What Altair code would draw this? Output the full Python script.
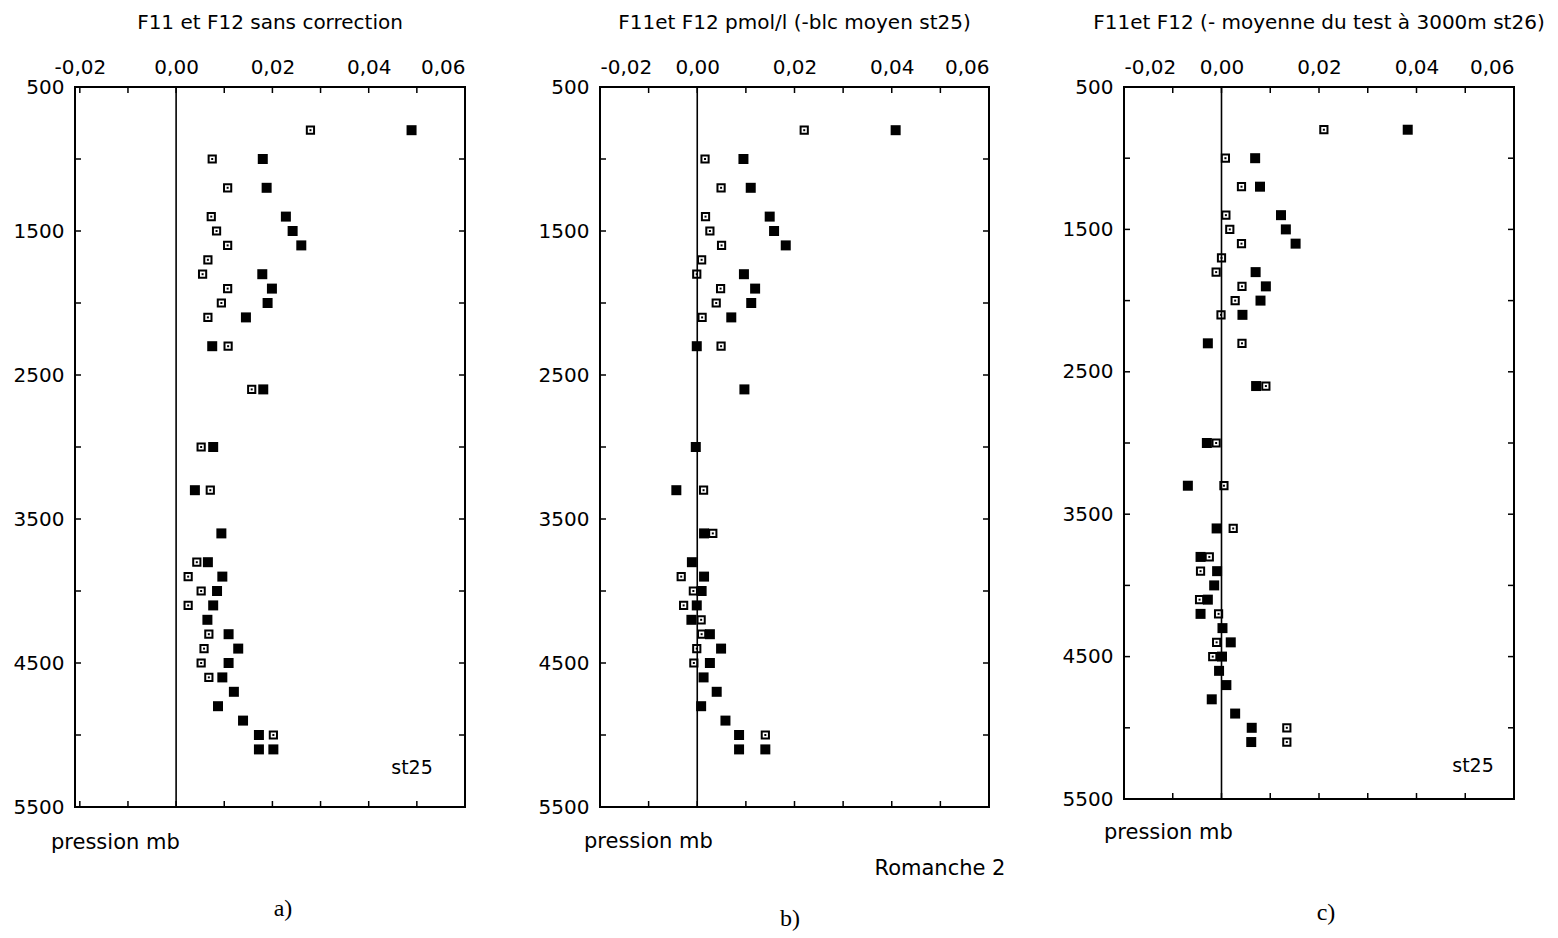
import altair as alt
import pandas as pd

# ---------------- data ----------------
# panel a) F11 et F12 sans correction
A_OPEN_P = [800, 1000, 1200, 1400, 1500, 1600, 1700, 1800, 1900, 2000, 2100, 2300, 2600, 3000,
            3300, 3800, 3900, 4000, 4100, 4300, 4400, 4500, 4600, 5000]
A_OPEN_X = [0.0279, 0.0075, 0.0107, 0.0073, 0.0084, 0.0107, 0.0066, 0.0055, 0.0107, 0.0094, 0.0066,
            0.0108, 0.0157, 0.0052, 0.0071, 0.0043, 0.0025, 0.0052, 0.0025, 0.0068, 0.0058, 0.0052,
            0.0068, 0.0202]
A_FILL_P = [800, 1000, 1200, 1400, 1500, 1600, 1800, 1900, 2000, 2100, 2300, 2600, 3000, 3300,
            3600, 3800, 3900, 4000, 4100, 4200, 4300, 4400, 4500, 4600, 4700, 4800, 4900, 5000,
            5100, 5100]
A_FILL_X = [0.0489, 0.0180, 0.0188, 0.0228, 0.0242, 0.0260, 0.0179, 0.0199, 0.0190, 0.0145, 0.0075,
            0.0181, 0.0077, 0.0039, 0.0094, 0.0066, 0.0096, 0.0085, 0.0077, 0.0065, 0.0109, 0.0129,
            0.0109, 0.0096, 0.0120, 0.0087, 0.0139, 0.0172, 0.0172, 0.0202]

# panel b) F11et F12 pmol/l (-blc moyen st25)
B_OPEN_P = [800, 1000, 1200, 1400, 1500, 1600, 1700, 1800, 1900, 2000, 2100, 2300, 3300, 3600,
            3900, 4000, 4100, 4200, 4300, 4400, 4500, 5000]
B_OPEN_X = [0.0220, 0.0016, 0.0049, 0.0017, 0.0026, 0.0050, 0.0009, -0.0001, 0.0048, 0.0039, 0.0010,
            0.0049, 0.0013, 0.0032, -0.0033, -0.0008, -0.0028, 0.0008, 0.0009, -0.0001, -0.0007,
            0.0140]
B_FILL_P = [800, 1000, 1200, 1400, 1500, 1600, 1800, 1900, 2000, 2100, 2300, 2600, 3000, 3300,
            3600, 3800, 3900, 4000, 4100, 4200, 4300, 4400, 4500, 4600, 4700, 4800, 4900, 5000,
            5100, 5100]
B_FILL_X = [0.0408, 0.0095, 0.0110, 0.0149, 0.0158, 0.0182, 0.0096, 0.0119, 0.0111, 0.0070, -0.0001,
            0.0097, -0.0003, -0.0043, 0.0014, -0.0011, 0.0014, 0.0009, -0.0001, -0.0012, 0.0026,
            0.0049, 0.0026, 0.0013, 0.0040, 0.0008, 0.0058, 0.0086, 0.0086, 0.0140]

# panel c) F11et F12 (- moyenne du test à 3000m st26)
C_OPEN_P = [800, 1000, 1200, 1400, 1500, 1600, 1700, 1800, 1900, 2000, 2100, 2300, 2600, 3000,
            3300, 3600, 3800, 3900, 4100, 4200, 4400, 4500, 5000, 5100]
C_OPEN_X = [0.0210, 0.0008, 0.0041, 0.0009, 0.0017, 0.0041, 0.0000, -0.0011, 0.0042, 0.0028, -0.0001,
            0.0042, 0.0091, -0.0011, 0.0005, 0.0024, -0.0025, -0.0043, -0.0045, -0.0006, -0.0010,
            -0.0018, 0.0134, 0.0134]
C_FILL_P = [800, 1000, 1200, 1400, 1500, 1600, 1800, 1900, 2000, 2100, 2300, 2600, 3000, 3300,
            3600, 3800, 3900, 4000, 4100, 4200, 4300, 4400, 4500, 4600, 4700, 4800, 4900, 5000,
            5100]
C_FILL_X = [0.0382, 0.0069, 0.0079, 0.0122, 0.0132, 0.0152, 0.0070, 0.0091, 0.0080, 0.0043, -0.0028,
            0.0071, -0.0030, -0.0069, -0.0010, -0.0043, -0.0009, -0.0015, -0.0028, -0.0043, 0.0002,
            0.0019, 0.0001, -0.0005, 0.0010, -0.0020, 0.0028, 0.0062, 0.0061]

TITLES = ["F11 et F12 sans correction",
          "F11et F12 pmol/l (-blc moyen st25)",
          "F11et F12 (- moyenne du test à 3000m st26)"]
PANEL_LETTERS = ["a)", "b)", "c)"]

Y_TICKS = [500, 1000, 1500, 2000, 2500, 3000, 3500, 4000, 4500, 5000, 5500]
Y_LABELS = [500, 1500, 2500, 3500, 4500, 5500]
X_TICKS = [-0.02, -0.01, 0.0, 0.01, 0.02, 0.03, 0.04, 0.05, 0.06]
X_LABELS = [-0.02, 0.0, 0.02, 0.04, 0.06]

FONT = "DejaVu Sans"
SERIF = "Liberation Serif"


def panel(title, op, ox, fp, fx, xdom, w, h, extras):
    xs = alt.Scale(domain=xdom, nice=False, zero=False)
    ys = alt.Scale(domain=[500, 5500], reverse=True, nice=False, zero=False)
    xax = alt.Axis(orient="top", values=X_LABELS, ticks=False, domain=False, grid=False,
                   title=None, labelFont=FONT, labelFontSize=20, labelColor="black",
                   labelPadding=10,
                   labelExpr="replace(replace(format(datum.value, '.2f'), '.', ','), '\u2212', '-')")
    yax = alt.Axis(orient="left", values=Y_LABELS, ticks=False, domain=False, grid=False,
                   title=None, labelFont=FONT, labelFontSize=20, labelColor="black",
                   labelPadding=11, format="d")

    zero = alt.Chart(pd.DataFrame({"v": [0.0]})).mark_rule(color="black", strokeWidth=1.6).encode(
        x=alt.X("v:Q", scale=xs, axis=xax))
    ytk = pd.DataFrame({"p": Y_TICKS})
    yl = alt.Chart(ytk).mark_rule(color="black", strokeWidth=1.5).encode(
        y=alt.Y("p:Q", scale=ys, axis=yax), x=alt.value(0), x2=alt.value(6))
    yr = alt.Chart(ytk).mark_rule(color="black", strokeWidth=1.5).encode(
        y=alt.Y("p:Q", scale=ys, axis=yax), x=alt.value(w - 6), x2=alt.value(w))
    xtk = pd.DataFrame({"v": X_TICKS})
    xt = alt.Chart(xtk).mark_rule(color="black", strokeWidth=1.5).encode(
        x=alt.X("v:Q", scale=xs, axis=xax), y=alt.value(0), y2=alt.value(6))
    xb = alt.Chart(xtk).mark_rule(color="black", strokeWidth=1.5).encode(
        x=alt.X("v:Q", scale=xs, axis=xax), y=alt.value(h - 6), y2=alt.value(h))

    od = pd.DataFrame({"p": op, "x": ox})
    fd = pd.DataFrame({"p": fp, "x": fx})
    opn = alt.Chart(od).mark_square(filled=False, color="black", strokeWidth=2, size=52,
                                    opacity=1).encode(
        x=alt.X("x:Q", scale=xs, axis=xax), y=alt.Y("p:Q", scale=ys, axis=yax))
    dot = alt.Chart(od).mark_square(filled=True, color="black", size=4, opacity=1).encode(
        x=alt.X("x:Q", scale=xs, axis=xax), y=alt.Y("p:Q", scale=ys, axis=yax))
    fil = alt.Chart(fd).mark_square(filled=True, color="black", size=100, opacity=1).encode(
        x=alt.X("x:Q", scale=xs, axis=xax), y=alt.Y("p:Q", scale=ys, axis=yax))

    layers = [zero, yl, yr, xt, xb, opn, dot, fil]
    for (txt, px, py, align, font, size) in extras:
        layers.append(
            alt.Chart(pd.DataFrame({"t": [txt]})).mark_text(
                align=align, baseline="middle", font=font, fontSize=size, color="black"
            ).encode(text="t:N", x=alt.value(px), y=alt.value(py)))

    return alt.layer(*layers).properties(
        width=w, height=h,
        title=alt.TitleParams(text=title, font=FONT, fontSize=20, fontWeight="normal",
                              color="black", anchor="middle", offset=24))


W_A, W_B, W_C = 390, 389, 390
H_A, H_B, H_C = 720, 720, 712

pa = panel(TITLES[0], A_OPEN_P, A_OPEN_X, A_FILL_P, A_FILL_X, [-0.021, 0.06], W_A, H_A, [
    ("st25", 337, 681, "center", FONT, 19),
    ("pression mb", -24, H_A + 36, "left", FONT, 21),
    (PANEL_LETTERS[0], 208, 822, "center", SERIF, 24),
])
pb = panel(TITLES[1], B_OPEN_P, B_OPEN_X, B_FILL_P, B_FILL_X, [-0.02, 0.06], W_B, H_B, [
    ("pression mb", -16, H_B + 35, "left", FONT, 21),
    ("Romanche 2", 340, 782, "center", FONT, 21),
    (PANEL_LETTERS[1], 190, 832, "center", SERIF, 24),
])
pc = panel(TITLES[2], C_OPEN_P, C_OPEN_X, C_FILL_P, C_FILL_X, [-0.02, 0.06], W_C, H_C, [
    ("st25", 349, 679, "center", FONT, 19),
    ("pression mb", -20, H_C + 34, "left", FONT, 21),
    (PANEL_LETTERS[2], 202, 826, "center", SERIF, 24),
])

chart = alt.hconcat(pa, pb, pc, spacing=135, bounds="flush").properties(
    padding={"left": 12, "top": 12, "right": 5, "bottom": 5},
    background="white",
).configure_view(stroke="black", strokeWidth=2)

chart.save("out.html", embed_options={"renderer": "svg", "actions": False})
